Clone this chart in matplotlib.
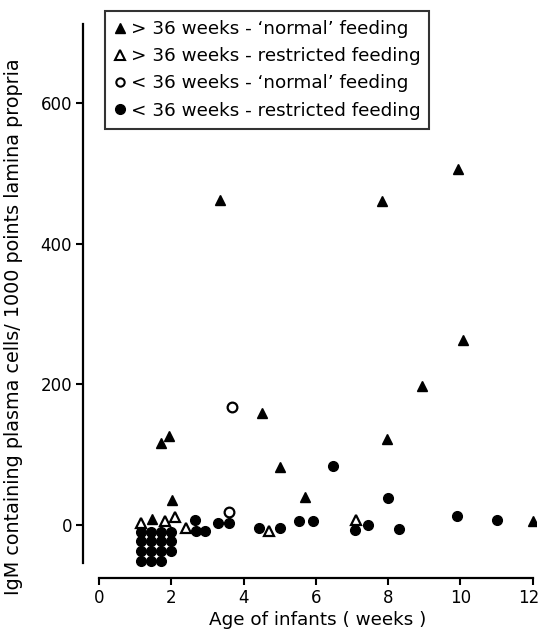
import matplotlib
matplotlib.use('Agg')
import matplotlib.pyplot as plt
import matplotlib.transforms as mtransforms
from matplotlib.lines import Line2D

# >36 weeks, 'normal' feeding (filled triangles)
tri_full_x = [1.47, 2.01, 1.71, 1.92, 3.35, 4.50, 5.00, 5.70, 7.82, 7.96, 8.93, 9.94, 10.06, 12.0]
tri_full_y = [8, 36, 116, 127, 462, 159, 83, 40, 460, 122, 198, 506, 263, 5]

# >36 weeks, restricted feeding (open triangles)
tri_open_x = [1.15, 1.83, 2.10, 2.40, 4.71, 7.11]
tri_open_y = [3, 5, 12, -5, -8, 7]

# <36 weeks, 'normal' feeding (open circles)
circ_open_x = [3.67, 3.60]
circ_open_y = [168, 18]

# <36 weeks, restricted feeding (filled circles)
circ_full_x = [2.66, 2.68, 2.93, 3.30, 3.60, 4.41, 5.01, 5.54, 5.91, 6.46, 7.99,
               7.08, 7.45, 8.31, 9.89, 11.0,
               1.15, 1.44, 1.72, 1.99,
               1.15, 1.44, 1.72, 1.99,
               1.15, 1.44, 1.72, 1.99,
               1.15, 1.44, 1.72]
circ_full_y = [7, -8, -8, 3, 3, -5, -5, 5, 5, 84, 39,
               -7, 0, -6, 13, 7,
               -10, -10, -10, -10,
               -23, -23, -23, -23,
               -37, -37, -37, -37,
               -51, -51, -51]

x_ticks = [0, 2, 4, 6, 8, 10, 12]
y_ticks = [0, 200, 400, 600]

labels = ["> 36 weeks - \u2018normal\u2019 feeding",
          "> 36 weeks - restricted feeding",
          "< 36 weeks - \u2018normal\u2019 feeding",
          "< 36 weeks - restricted feeding"]

fig = plt.figure(figsize=(5.41, 6.40), dpi=100)
ax = fig.add_axes([0.1534, 0.0973, 0.838, 0.865])

ax.plot(tri_full_x, tri_full_y, ls='none', marker='^', ms=7.5, color='black', mec='black')
ax.plot(tri_open_x, tri_open_y, ls='none', marker='^', ms=7, mfc='white', mec='black', mew=1.6)
ax.plot(circ_open_x, circ_open_y, ls='none', marker='o', ms=7, mfc='white', mec='black', mew=1.6)
ax.plot(circ_full_x, circ_full_y, ls='none', marker='o', ms=7, color='black')

ax.set_xlim(-0.45, 12.1)
ax.set_ylim(-75, 712)
ax.set_xticks(x_ticks)
ax.set_yticks(y_ticks)

for s in ['top', 'right']:
    ax.spines[s].set_visible(False)
ax.spines['left'].set_bounds(-54, 712)
ax.spines['bottom'].set_bounds(0, 12)
ax.spines['left'].set_linewidth(1.6)
ax.spines['bottom'].set_linewidth(1.6)
ax.tick_params(length=5, width=1.5, labelsize=12, pad=3)

# nudge the last x tick label so it stays inside the picture
fig.canvas.draw()
last = ax.get_xticklabels()[-1]
last.set_transform(last.get_transform() +
                   mtransforms.ScaledTranslation(-4 / 100, 0, fig.dpi_scale_trans))

fig.text(318 / 541, 1 - 620 / 640, "Age of infants ( weeks )", fontsize=13.2,
         ha='center', va='center')
fig.text(14 / 541, 1 - 327 / 640,
         "IgM containing plasma cells/ 1000 points lamina propria",
         fontsize=13.8, rotation=90, ha='center', va='center')

handles = [
    Line2D([], [], ls='none', marker='^', ms=7, color='black'),
    Line2D([], [], ls='none', marker='^', ms=6.5, mfc='white', mec='black', mew=1.5),
    Line2D([], [], ls='none', marker='o', ms=6, mfc='white', mec='black', mew=1.5),
    Line2D([], [], ls='none', marker='o', ms=7, color='black'),
]
leg = fig.legend(handles, labels, loc='upper left',
                 bbox_to_anchor=(105 / 541, 1 - 11 / 640),
                 fontsize=13.2, frameon=True, fancybox=False, edgecolor='black',
                 handlelength=0.6, handletextpad=0.3, borderpad=0.5,
                 labelspacing=0.5, borderaxespad=0)
leg.get_frame().set_linewidth(1.5)

plt.savefig('out.png', dpi=100)
plt.close()
